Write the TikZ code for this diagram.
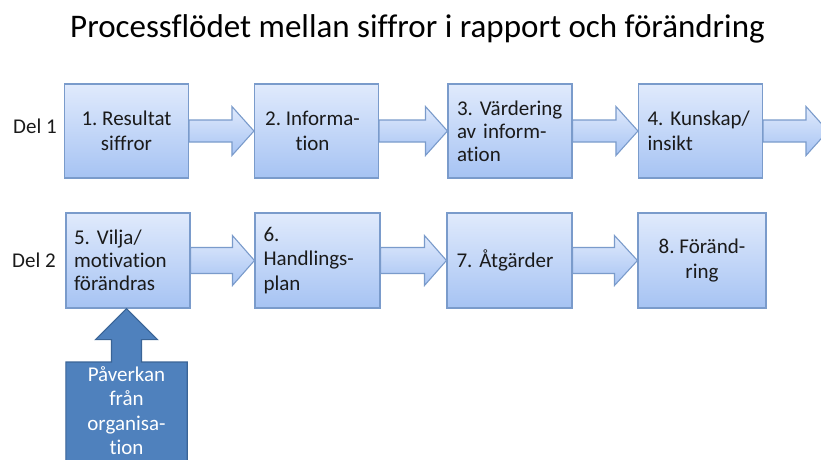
\documentclass[tikz,border=0pt]{standalone}
\usepackage{fontspec}
\setmainfont{Carlito}[Ligatures={NoCommon}, RawFeature={-liga;-clig}]
\usetikzlibrary{calc}
\definecolor{boxtop}{HTML}{E0EAFC}
\definecolor{boxbot}{HTML}{A6C3F3}
\definecolor{boxline}{HTML}{7A9BCB}
\definecolor{calfill}{HTML}{4F81BD}
\definecolor{calline}{HTML}{3A6496}
\definecolor{txt}{HTML}{1A1A1A}
\frenchspacing
\begin{document}
\begin{tikzpicture}[x=1pt,y=-1pt,
  stepbox/.style={draw=boxline, line width=1.1pt, top color=boxtop, bottom color=boxbot,
    minimum width=124pt, minimum height=94pt, inner sep=0pt},
  blockarr/.style={draw=boxline, line width=1.1pt, top color=boxtop, bottom color=boxbot, line join=miter},
  calstyle/.style={draw=calline, line width=1.1pt, fill=calfill, line join=miter},
  boxtext/.style={font=\fontsize{21}{24.5}\selectfont, text=txt, inner sep=0pt},
  tighttext/.style={font=\fontsize{21}{23}\selectfont},
  lefttext/.style={boxtext, text width=110pt, align=left},
  centertext/.style={boxtext, align=center},
]
\useasboundingbox (0,0) rectangle (821,459);
\clip (0,0) rectangle (821,459);

\newcommand\blockarrow[5]{%
  \draw[blockarr] let \p1=(#1), \p2=(#2) in
    (\x1,\y1+#3) -- (\x2-#5,\y1+#3) -- (\x2-#5,\y1+#4) -- (\x2,\y1)
    -- (\x2-#5,\y1-#4) -- (\x2-#5,\y1-#3) -- (\x1,\y1-#3) -- cycle;}

% title
\node[font=\fontsize{33}{40}\selectfont, anchor=base, inner sep=0pt] (title) at (417.5,37)
  {Processflödet mellan siffror i rapport och förändring};

% row labels
\node[boxtext, anchor=base west] (del1) at (13,133) {Del 1};
\node[boxtext, anchor=base west] (del2) at (12,267) {Del 2};

% row 1 boxes
\node[stepbox] (b1) at (126.5,131) {};
\node[stepbox] (b2) at (316.5,131) {};
\node[stepbox] (b3) at (510,131) {};
\node[stepbox] (b4) at (700.5,131) {};
\coordinate (e4) at (828,131);

% row 2 boxes
\node[stepbox, minimum height=95pt] (b5) at (128,260.5) {};
\node[stepbox, minimum height=95pt, minimum width=125pt] (b6) at (317.5,260.5) {};
\node[stepbox, minimum height=95pt, minimum width=125pt] (b7) at (509.5,260.5) {};
\node[stepbox, minimum height=95pt, minimum width=128pt] (b8) at (702,260.5) {};

% arrows
\blockarrow{b1.east}{b2.west}{11}{24.5}{22}
\blockarrow{b2.east}{b3.west}{11}{24.5}{22}
\blockarrow{b3.east}{b4.west}{11}{24.5}{22}
\blockarrow{b4.east}{e4}{11}{24.5}{22}
\blockarrow{b5.east}{b6.west}{13}{25}{22}
\blockarrow{b6.east}{b7.west}{13}{25}{22}
\blockarrow{b7.east}{b8.west}{13}{25}{23}

% box texts
\node[centertext] (t1) at (b1) {1. Resultat\\siffror};
\node[centertext] (t2) at ([xshift=-4pt]b2.center) {2. Informa-\\tion};
\node[lefttext, tighttext] (t3) at ([xshift=2pt]b3.center) {3. Värdering\\av inform-\\ation};
\node[lefttext] (t4) at ([xshift=2pt]b4.center) {4. Kunskap/\\insikt};
\node[lefttext, tighttext] (t5) at ([xshift=1pt]b5.center) {5. Vilja/\\motivation\\förändras};
\node[lefttext] (t6) at ([xshift=1pt]b6.center) {6.\\Handlings-\\plan};
\node[lefttext] (t7) at ([xshift=2pt]b7.center) {7. Åtgärder};
\node[centertext] (t8) at (b8) {8. Föränd-\\ring};

% up-arrow callout
\node[minimum width=121pt, minimum height=110pt, inner sep=0pt, anchor=north] (cal) at (126.5,362) {};
\draw[calstyle] let \p1=(b5.south), \p2=(cal.north west), \p3=(cal.south east), \p4=(cal.north) in
  (\p2) -- (\x4-15,\y2) -- (\x4-15,\y1-31) -- (\x4-31,\y1-31) -- (\x4,\y1)
  -- (\x4+31,\y1-31) -- (\x4+15,\y1-31) -- (\x4+15,\y2) -- (\x3,\y2) -- (\p3) -- (\x2,\y3) -- cycle;
\node[boxtext, text=white, align=center, anchor=north] (caltext) at ($(cal.north)+(0,4)$)
  {Påverkan\\från\\organisa-\\tion};
\end{tikzpicture}
\end{document}
